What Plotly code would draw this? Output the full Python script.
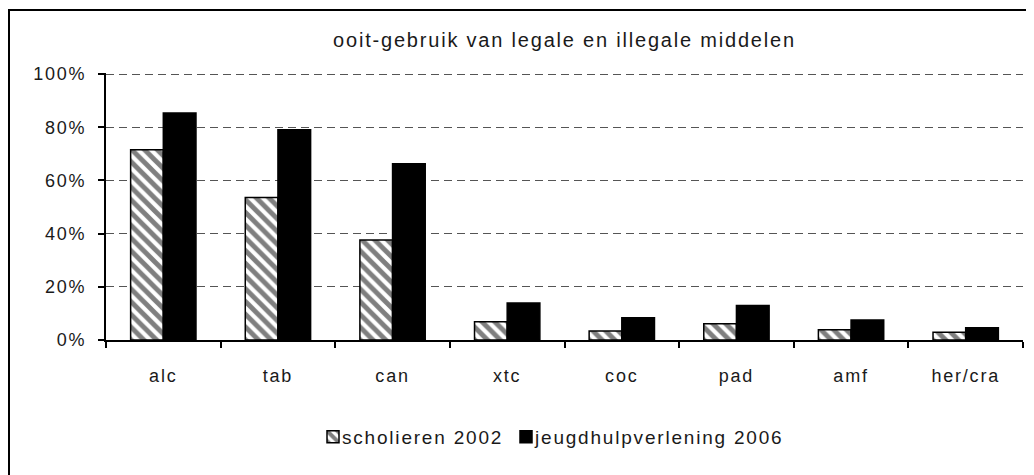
import plotly.graph_objects as go

# middelen en percentages ooit-gebruik
categories = ["alc", "tab", "can", "xtc", "coc", "pad", "amf", "her/cra"]
scholieren_2002 = [71.5, 53.6, 37.6, 6.9, 3.4, 6.1, 3.9, 2.9]
jeugdhulp_2006 = [85.4, 79.1, 66.3, 13.9, 8.4, 13.0, 7.5, 4.6]
y_ticks = [0, 20, 40, 60, 80, 100]

FONT = "Liberation Sans, Arial, sans-serif"

# de pagina zet de figuur op 8px van de rand, daarom marges iets verschoven
OFF = 8

fig = go.Figure()
fig.add_trace(go.Bar(
    x=categories, y=scholieren_2002, name="scholieren 2002",
    marker=dict(color="white", line=dict(color="black", width=1.5),
                pattern=dict(shape="\\", fgcolor="black", bgcolor="white",
                             size=9, solidity=0.55)),
))
fig.add_trace(go.Bar(
    x=categories, y=jeugdhulp_2006, name="jeugdhulpverlening 2006",
    marker=dict(color="black", line=dict(color="black", width=1.5)),
))

fig.update_layout(
    width=1034, height=475,
    margin=dict(l=106 - OFF, r=11 + OFF, t=73 - OFF, b=135 + OFF),
    paper_bgcolor="white", plot_bgcolor="white",
    font=dict(family=FONT, size=18, color="#1a1a1a"),
    barmode="group", bargap=0.43, bargroupgap=0,
    title=dict(text="ooit-gebruik van legale en illegale middelen",
               x=0.5, xref="paper", y=(475 - 40 + OFF) / 475, yanchor="middle",
               font=dict(family=FONT, size=20)),
    legend=dict(orientation="h", x=(313 - 106) / 917, xanchor="left",
                y=-0.363, yanchor="middle", font=dict(size=19),
                entrywidth=148, entrywidthmode="pixels", tracegroupgap=0),
    showlegend=True,
)
fig.update_xaxes(
    showline=True, linecolor="black", linewidth=2,
    ticks="outside", tickson="boundaries", ticklen=6, tickwidth=2,
    tickcolor="black", ticklabelstandoff=18, showgrid=False,
)
fig.update_yaxes(
    range=[0, 100.4], tickvals=y_ticks, ticktext=[f"{v}%" for v in y_ticks],
    showline=True, linecolor="black", linewidth=2,
    ticks="outside", ticklen=6, tickwidth=2, tickcolor="black",
    ticklabelstandoff=8,
    showgrid=True, gridcolor="#555555", gridwidth=1, griddash="8px,5px",
    zeroline=False,
)
# kader rond de grafiek
fig.add_shape(type="rect", xref="paper", yref="paper",
              x0=(9 - 106) / 917, x1=1.1, y0=-0.8, y1=(340 - 10) / 267,
              line=dict(color="black", width=2), layer="below")

# letters iets uit elkaar zoals in het origineel, legenda-tekst dichter bij het blokje
extra_js = """
var gd = document.getElementById('{plot_id}');
gd.querySelectorAll('text').forEach(function(t){ t.style.letterSpacing = '1.8px'; });
gd.querySelectorAll('.legend [clip-path]').forEach(function(e){ e.removeAttribute('clip-path'); });
gd.querySelectorAll('.legend .legendtext').forEach(function(t){ t.setAttribute('x', 29); });
"""
fig.write_html("out.html", post_script=extra_js)
